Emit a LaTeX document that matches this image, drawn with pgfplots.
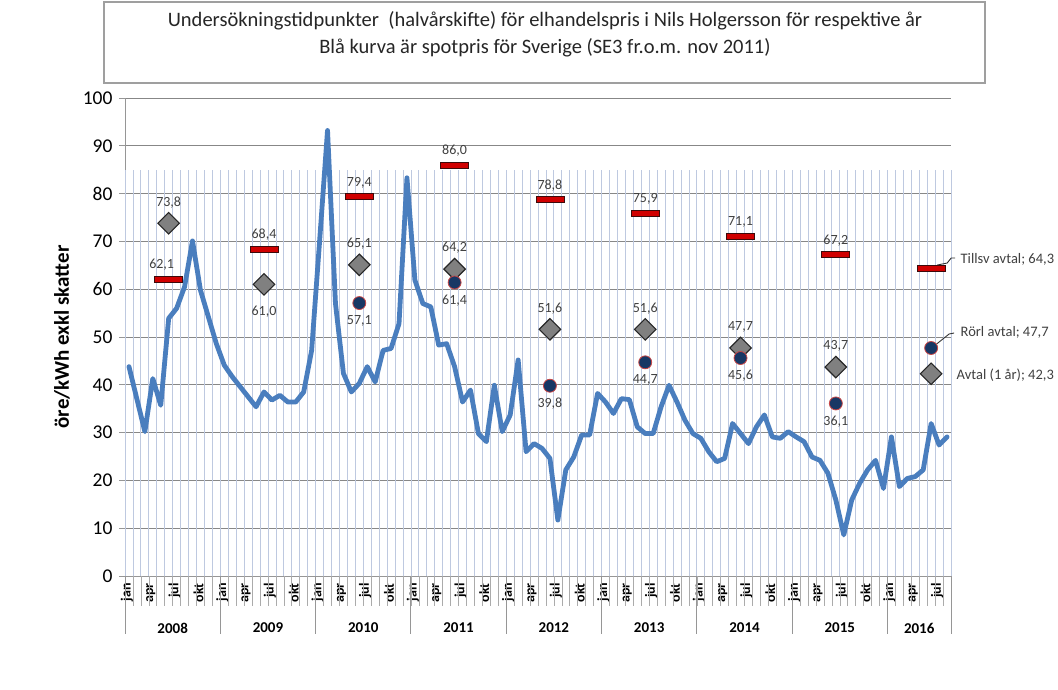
\documentclass[border=0pt]{standalone}
\usepackage{pgfplots}
\pgfplotsset{compat=1.18}
\usepackage{fontspec}
\setmainfont{Carlito}
\definecolor{spot}{RGB}{74,126,190}
\definecolor{barred}{RGB}{208,0,0}
\definecolor{barline}{RGB}{60,10,10}
\definecolor{diam}{RGB}{128,128,128}
\definecolor{diamline}{RGB}{38,38,38}
\definecolor{circ}{RGB}{23,55,100}
\definecolor{circline}{RGB}{200,70,70}
\definecolor{hgrid}{RGB}{135,135,135}
\definecolor{vgrid}{RGB}{190,201,224}
\definecolor{tickgray}{RGB}{150,150,150}
\definecolor{lbl}{RGB}{64,64,64}
\pgfdeclareplotmark{redbar}{%
  \pgfpathrectangle{\pgfpoint{-14pt}{-3pt}}{\pgfpoint{28pt}{6pt}}%
  \pgfusepathqfillstroke}
\begin{document}
\begin{tikzpicture}[x=1pt,y=1pt]
\path[fill=white] (0,0) rectangle (1058,690);
\draw[draw=gray!75, line width=1.2pt, fill=white] (104,607) rectangle (985,688);
\node[font=\fontsize{20.5}{27}\selectfont, align=center, text=black!85] at (545,656)
 {Undersökningstidpunkter~ (halvårskifte) för elhandelspris i Nils Holgersson för respektive år\\Blå kurva är spotpris för Sverige (SE3 fr.o.m. nov 2011)};
\begin{axis}[
  at={(125pt,114pt)}, anchor=south west,
  width=826pt, height=478pt, scale only axis,
  xmin=-0.5, xmax=103.5, ymin=0, ymax=100,
  clip=false,
  axis x line*=bottom, axis y line*=left,
  axis line style={draw=tickgray, line width=0.9pt},
  ytick={0,10,...,100},
  ymajorgrids, major grid style={draw=hgrid, line width=0.9pt},
  tick align=outside, major tick length=6pt,
  ytick style={draw=tickgray, line width=0.9pt},
  xtick={0,3,...,102},
  xtick style={draw=none},
  xticklabels={jan,apr,jul,okt,jan,apr,jul,okt,jan,apr,jul,okt,jan,apr,jul,okt,jan,apr,jul,okt,jan,apr,jul,okt,jan,apr,jul,okt,jan,apr,jul,okt,jan,apr,jul},
  xticklabel style={rotate=90, anchor=east, font=\fontsize{14}{16}\selectfont\bfseries, inner sep=1pt, yshift=2pt},
  yticklabel style={font=\fontsize{19.5}{22}\selectfont, xshift=-3pt},
  /pgf/number format/assume math mode=true,
  ylabel={öre/kWh exkl skatter},
  every axis y label/.style={at={(rel axis cs:0,0.5)}, rotate=90, anchor=center, yshift=63pt, font=\fontsize{21}{24}\selectfont\bfseries},
]
% light vertical grid (stops at 85)
\pgfplotsinvokeforeach{-0.5,0.5,...,103.5}{\draw[vgrid, line width=0.8pt] (axis cs:#1,0) -- (axis cs:#1,85);}
% tick lines in the label area
\pgfplotsinvokeforeach{0.5,1.5,...,102.5}{\draw[tickgray!80, line width=0.6pt] (axis cs:#1,0) -- ++(0pt,-30pt);}
% year separators
\pgfplotsinvokeforeach{-0.5,11.5,23.5,35.5,47.5,59.5,71.5,83.5,95.5,103.5}{\draw[tickgray, line width=0.9pt] (axis cs:#1,0) -- ++(0pt,-58pt);}
\node[font=\fontsize{15}{17}\selectfont\bfseries] at (axis cs:5.5,0) [yshift=-52pt] {2008};
\node[font=\fontsize{15}{17}\selectfont\bfseries] at (axis cs:17.5,0) [yshift=-52pt] {2009};
\node[font=\fontsize{15}{17}\selectfont\bfseries] at (axis cs:29.5,0) [yshift=-52pt] {2010};
\node[font=\fontsize{15}{17}\selectfont\bfseries] at (axis cs:41.5,0) [yshift=-52pt] {2011};
\node[font=\fontsize{15}{17}\selectfont\bfseries] at (axis cs:53.5,0) [yshift=-52pt] {2012};
\node[font=\fontsize{15}{17}\selectfont\bfseries] at (axis cs:65.5,0) [yshift=-52pt] {2013};
\node[font=\fontsize{15}{17}\selectfont\bfseries] at (axis cs:77.5,0) [yshift=-52pt] {2014};
\node[font=\fontsize{15}{17}\selectfont\bfseries] at (axis cs:89.5,0) [yshift=-52pt] {2015};
\node[font=\fontsize{15}{17}\selectfont\bfseries] at (axis cs:99.5,0) [yshift=-52pt] {2016};
% spot price
\addplot[spot, line width=4.8pt, line join=round, line cap=round] table {
0 43.8
1 37
2 30.2
3 41.3
4 35.7
5 53.9
6 56
7 60.5
8 70.1
9 59.8
10 54.2
11 48.6
12 44.1
13 41.7
14 39.6
15 37.5
16 35.4
17 38.5
18 36.8
19 37.8
20 36.4
21 36.4
22 38.5
23 47.2
24 70
25 93.2
26 57
27 42.4
28 38.5
29 40.3
30 43.8
31 40.6
32 47.2
33 47.6
34 52.8
35 83.3
36 61.9
37 57
38 56.3
39 48.3
40 48.6
41 43.8
42 36.4
43 38.9
44 29.8
45 28.1
46 39.9
47 30.2
48 33.7
49 45.2
50 26
51 27.7
52 26.7
53 24.6
54 11.7
55 22.2
56 24.9
57 29.5
58 29.5
59 38.2
60 36.4
61 34
62 37.1
63 36.9
64 31.2
65 29.8
66 29.8
67 35.4
68 39.9
69 36.4
70 32.6
71 29.8
72 28.8
73 26
74 23.9
75 24.6
76 31.9
77 29.8
78 27.7
79 31.2
80 33.7
81 29.1
82 28.8
83 30.2
84 29.1
85 28.1
86 24.9
87 24.2
88 21.5
89 15.9
90 8.6
91 15.9
92 19.4
93 22.2
94 24.2
95 18.3
96 29.1
97 18.7
98 20.4
99 20.8
100 22.2
101 31.9
102 27.4
103 29.1
};
% Tillsv avtal (red bars)
\pgfplotsset{lblstyle/.style={nodes near coords, point meta=explicit symbolic,
  nodes near coords style={anchor=center, font=\fontsize{14}{16}\selectfont, text=lbl, inner sep=0pt}}}
\addplot[only marks, mark=redbar, mark options={fill=barred, draw=barline, line width=0.8pt}, lblstyle,
  nodes near coords style={yshift=14pt, xshift=-7pt}]
  coordinates {(5,62.1) [62,1]};
\addplot[only marks, mark=redbar, mark options={fill=barred, draw=barline, line width=0.8pt}, lblstyle,
  nodes near coords style={yshift=14pt}]
  coordinates {(17,68.4) [68,4] (29,79.4) [79,4] (41,86.0) [86,0] (53,78.8) [78,8] (65,75.9) [75,9] (77,71.1) [71,1] (89,67.2) [67,2]};
\addplot[only marks, mark=redbar, mark options={fill=barred, draw=barline, line width=0.8pt}]
  coordinates {(101,64.3)};
% Avtal (1 år) (diamonds)
\addplot[only marks, mark=square*, mark size=7.6pt, mark options={rotate=45, fill=diam, draw=diamline, line width=1.1pt}, lblstyle,
  nodes near coords style={yshift=21pt}]
  coordinates {(5,73.8) [73,8] (29,65.1) [65,1] (41,64.2) [64,2] (53,51.6) [51,6] (65,51.6) [51,6] (77,47.7) [47,7] (89,43.7) [43,7]};
\addplot[only marks, mark=square*, mark size=7.6pt, mark options={rotate=45, fill=diam, draw=diamline, line width=1.1pt}, lblstyle,
  nodes near coords style={yshift=-27pt}]
  coordinates {(17,61.0) [61,0]};
\addplot[only marks, mark=square*, mark size=7.6pt, mark options={rotate=45, fill=diam, draw=diamline, line width=1.1pt}]
  coordinates {(101,42.3)};
% Rörl avtal (circles)
\addplot[only marks, mark=*, mark size=6.5pt, mark options={fill=circ, draw=circline, line width=0.8pt}, lblstyle,
  nodes near coords style={yshift=-18pt}]
  coordinates {(29,57.1) [57,1] (41,61.4) [61,4] (53,39.8) [39,8] (65,44.7) [44,7] (77,45.6) [45,6] (89,36.1) [36,1]};
\addplot[only marks, mark=*, mark size=6.5pt, mark options={fill=circ, draw=circline, line width=0.8pt}]
  coordinates {(101,47.7)};
% 2016 labels with leader lines
\draw[black!80, line width=0.9pt] (axis cs:101,64.3) ++(6pt,3.6pt) -- ++(10pt,2pt) -- ++(4pt,5pt) -- ++(4pt,0pt);
\node[anchor=west, font=\fontsize{14.5}{16}\selectfont, text=lbl] at (axis cs:101,64.3) [xshift=26pt, yshift=9pt] {Tillsv avtal; 64,3};
\draw[black!80, line width=0.9pt] (axis cs:101,47.7) ++(3pt,2pt) -- ++(15pt,12pt) -- ++(5pt,1pt);
\node[anchor=west, font=\fontsize{14.5}{16}\selectfont, text=lbl] at (axis cs:101,47.7) [xshift=26pt, yshift=16pt] {Rörl avtal; 47,7};
\node[anchor=west, font=\fontsize{14.5}{16}\selectfont, text=lbl] at (axis cs:101,42.3) [xshift=22pt, yshift=-1pt] {Avtal (1 år); 42,3};
\end{axis}
\end{tikzpicture}
\end{document}
